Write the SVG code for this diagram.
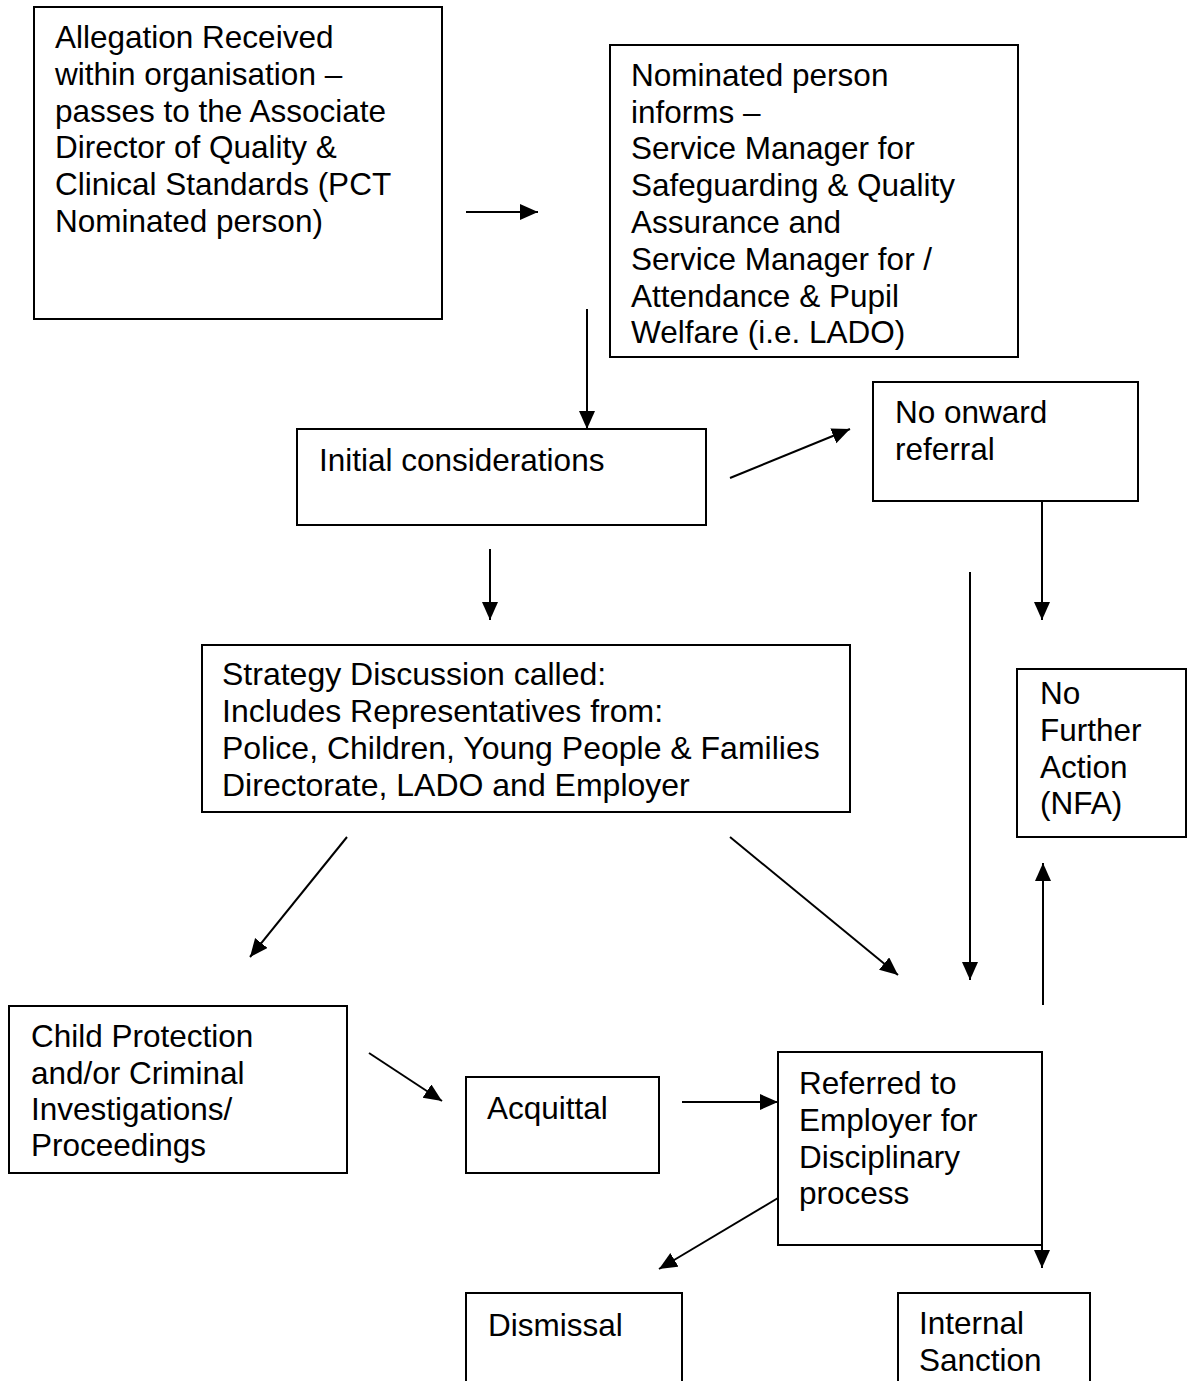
<svg xmlns="http://www.w3.org/2000/svg" width="1188" height="1381" viewBox="0 0 1188 1381">
<style>
.box{fill:#fff;stroke:#000;stroke-width:2}
.t{font-family:"Liberation Sans",Arial,sans-serif;font-size:31.5px;fill:#000}
.ts{font-family:"Liberation Sans",Arial,sans-serif;font-size:32px;fill:#000}
.c{stroke:#000;stroke-width:2;fill:none;marker-end:url(#ah)}
</style>
<defs>
<marker id="ah" markerUnits="userSpaceOnUse" markerWidth="20" markerHeight="18" refX="18" refY="8" orient="auto">
<path d="M0,0 L18,8 L0,16 Z" fill="#000"/>
</marker>
</defs>
<rect width="1188" height="1381" fill="#fff"/>
<g id="allegation">
<rect class="box" x="34" y="7" width="408" height="312"/>
<text class="t"><tspan x="55" y="48">Allegation Received</tspan><tspan x="55" y="85">within organisation –</tspan><tspan x="55" y="122">passes to the Associate</tspan><tspan x="55" y="158">Director of Quality &amp;</tspan><tspan x="55" y="195">Clinical Standards (PCT</tspan><tspan x="55" y="232">Nominated person)</tspan></text>
</g>
<g id="nominated">
<rect class="box" x="610" y="45" width="408" height="312"/>
<text class="t"><tspan x="631" y="86">Nominated person</tspan><tspan x="631" y="123">informs –</tspan><tspan x="631" y="159">Service Manager for</tspan><tspan x="631" y="196">Safeguarding &amp; Quality</tspan><tspan x="631" y="233">Assurance and</tspan><tspan x="631" y="270">Service Manager for /</tspan><tspan x="631" y="307">Attendance &amp; Pupil</tspan><tspan x="631" y="343">Welfare (i.e. LADO)</tspan></text>
</g>
<g id="initial">
<rect class="box" x="297" y="429" width="409" height="96"/>
<text class="t" x="319" y="471">Initial considerations</text>
</g>
<g id="noonward">
<rect class="box" x="873" y="382" width="265" height="119"/>
<text class="t"><tspan x="895" y="423">No onward</tspan><tspan x="895" y="460">referral</tspan></text>
</g>
<g id="strategy">
<rect class="box" x="202" y="645" width="648" height="167"/>
<text class="ts"><tspan x="222" y="685">Strategy Discussion called:</tspan><tspan x="222" y="722">Includes Representatives from:</tspan><tspan x="222" y="759">Police, Children, Young People &amp; Families</tspan><tspan x="222" y="796">Directorate, LADO and Employer</tspan></text>
</g>
<g id="nfa">
<rect class="box" x="1017" y="669" width="169" height="168"/>
<text class="t"><tspan x="1040" y="704">No</tspan><tspan x="1040" y="741">Further</tspan><tspan x="1040" y="778">Action</tspan><tspan x="1040" y="814">(NFA)</tspan></text>
</g>
<g id="child">
<rect class="box" x="9" y="1006" width="338" height="167"/>
<text class="t"><tspan x="31" y="1047">Child Protection</tspan><tspan x="31" y="1084">and/or Criminal</tspan><tspan x="31" y="1120">Investigations/</tspan><tspan x="31" y="1156">Proceedings</tspan></text>
</g>
<g id="acquittal">
<rect class="box" x="466" y="1077" width="193" height="96"/>
<text class="t" x="487" y="1119">Acquittal</text>
</g>
<g id="referred">
<rect class="box" x="778" y="1052" width="264" height="193"/>
<text class="t"><tspan x="799" y="1094">Referred to</tspan><tspan x="799" y="1131">Employer for</tspan><tspan x="799" y="1168">Disciplinary</tspan><tspan x="799" y="1204">process</tspan></text>
</g>
<g id="dismissal">
<rect class="box" x="466" y="1293" width="216" height="100"/>
<text class="t" x="488" y="1336">Dismissal</text>
</g>
<g id="internal">
<rect class="box" x="898" y="1293" width="192" height="100"/>
<text class="t"><tspan x="919" y="1334">Internal</tspan><tspan x="919" y="1371">Sanction</tspan></text>
</g>
<g id="connectors">
<line class="c" x1="466" y1="212" x2="538" y2="212"/>
<line class="c" x1="587" y1="309" x2="587" y2="429"/>
<line class="c" x1="730" y1="478" x2="850" y2="429"/>
<line class="c" x1="490" y1="549" x2="490" y2="620"/>
<line class="c" x1="1042" y1="501" x2="1042" y2="620"/>
<line class="c" x1="970" y1="572" x2="970" y2="980"/>
<line class="c" x1="347" y1="837" x2="250" y2="957"/>
<line class="c" x1="730" y1="837" x2="898" y2="975"/>
<line class="c" x1="1043" y1="1005" x2="1043" y2="863"/>
<line class="c" x1="369" y1="1053" x2="442" y2="1101"/>
<line class="c" x1="682" y1="1102" x2="778" y2="1102"/>
<line class="c" x1="778" y1="1198" x2="659" y2="1269"/>
<line class="c" x1="1042" y1="1195" x2="1042" y2="1268"/>
</g>
</svg>
